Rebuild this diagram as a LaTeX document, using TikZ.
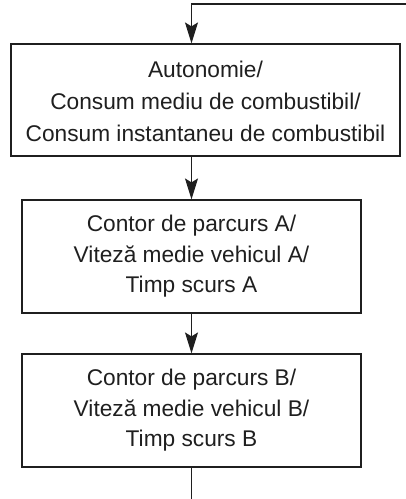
\documentclass[tikz,border=0pt]{standalone}
\usepackage{fontspec}
\setmainfont{Liberation Sans}
\usetikzlibrary{arrows.meta}
\begin{document}
\begin{tikzpicture}[x=1pt,y=-1pt,
  box/.style={draw=black!88,line width=1.2pt,align=center,inner sep=0pt,
    text=black!88,font=\fontsize{22.7}{30.5}\selectfont},
  arr/.style={draw=black!88,line width=1.2pt,-{Stealth[length=21pt,width=13pt,inset=4pt]}},
  ln/.style={draw=black!88,line width=1.2pt}]
\useasboundingbox (0,0) rectangle (406,499);
\node[box,font=\fontsize{22.7}{32}\selectfont,minimum width=389pt,minimum height=112pt] (b1) at (205.5,100)
  {\rule{0pt}{20pt}Autonomie/\\Consum mediu de combustibil/\\Consum instantaneu de combustibil};
\node[box,minimum width=339pt,minimum height=113pt] (b2) at (191.5,256.5)
  {Contor de parcurs A/\\Vitez\u{a} medie vehicul A/\\Timp scurs A};
\node[box,minimum width=339pt,minimum height=113pt] (b3) at (191.5,410.5)
  {Contor de parcurs B/\\Vitez\u{a} medie vehicul B/\\Timp scurs B};
\coordinate (in) at (408,4);
\coordinate (corner) at (191.5,4);
\coordinate (out) at (191.5,501);
\draw[arr] (in) -- (corner) -- (corner |- b1.north);
\draw[arr] (b2.north |- b1.south) -- (b2.north);
\draw[arr] (b2.south) -- (b3.north);
\draw[ln] (b3.south) -- (out);
\end{tikzpicture}
\end{document}
